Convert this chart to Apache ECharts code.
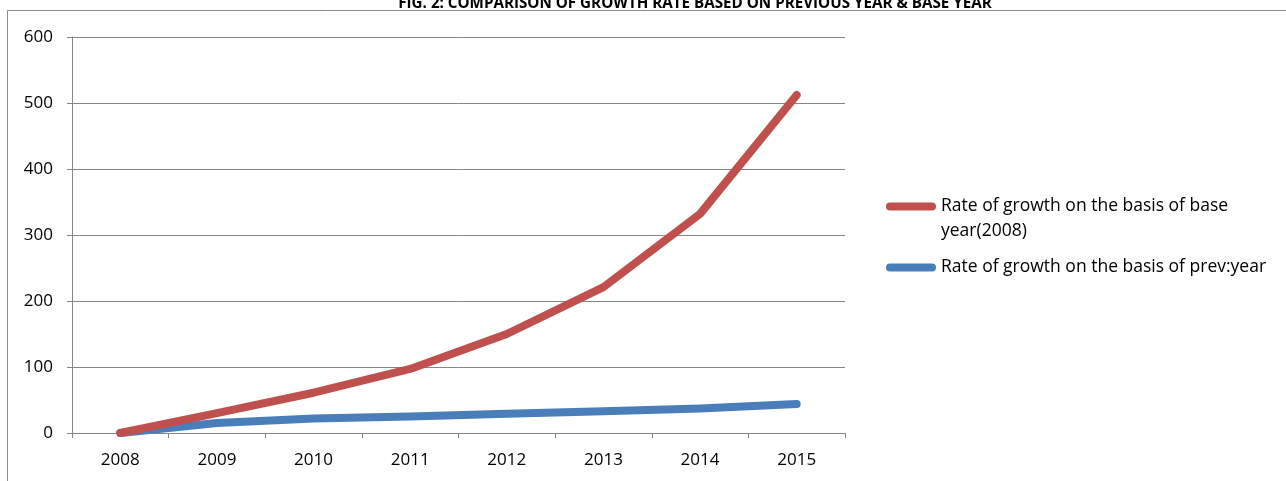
<!DOCTYPE html>
<html>
<head>
<meta charset="utf-8">
<script src="https://cdn.jsdelivr.net/npm/echarts@6/dist/echarts.min.js"></script>
<style>
html,body{margin:0;padding:0;background:#fff;}
#chart{width:1286px;height:481px;}
</style>
</head>
<body>
<div id="chart"></div>
<script>
var titleText = 'FIG. 2: COMPARISON OF GROWTH RATE BASED ON PREVIOUS YEAR & BASE YEAR';
var years = ['2008', '2009', '2010', '2011', '2012', '2013', '2014', '2015'];
var baseYearName = 'Rate of growth on the basis of base year(2008)';
var prevYearName = 'Rate of growth on the basis of prev:year';
var baseYearValues = [0, 30, 61, 97, 150, 221, 332, 512];
var prevYearValues = [0, 15, 22, 25, 29, 33, 37, 44];
var yTicks = [0, 100, 200, 300, 400, 500, 600];

var FONT = 'Open Sans';
var chart = echarts.init(document.getElementById('chart'));
var legendIcon = 'path://M4,0 H46 A4,4 0 0 1 46,8 H4 A4,4 0 0 1 4,0 Z';
chart.setOption({
  animation: false,
  backgroundColor: '#ffffff',
  textStyle: { fontFamily: FONT },
  title: {
    text: titleText,
    left: 690,
    top: -9,
    textAlign: 'center',
    textStyle: { fontFamily: FONT, fontWeight: 'bold', fontSize: 15.2, color: '#000' }
  },
  graphic: [{
    type: 'rect',
    shape: { x: 7.5, y: 10.5, width: 1300, height: 500 },
    style: { fill: 'none', stroke: '#8a8a8a', lineWidth: 1 },
    silent: true
  }],
  grid: { left: 72, right: 441, top: 37, bottom: 48, containLabel: false },
  legend: {
    orient: 'vertical',
    left: 881,
    top: 164,
    itemWidth: 50,
    itemHeight: 8,
    itemGap: 11,
    icon: legendIcon,
    data: [baseYearName, prevYearName],
    formatter: function (name) {
      if (name === baseYearName) {
        return '\nRate of growth on the basis of base\nyear(2008)';
      }
      return name;
    },
    textStyle: { fontFamily: FONT, fontSize: 17.5, color: '#000', lineHeight: 25 }
  },
  xAxis: {
    type: 'category',
    data: years,
    boundaryGap: true,
    axisLine: { lineStyle: { color: '#868686', width: 1 } },
    axisTick: { show: true, alignWithLabel: false, interval: 0, length: 5, lineStyle: { color: '#868686' } },
    axisLabel: { margin: 19, fontFamily: FONT, fontSize: 17, color: '#000' },
    splitLine: { show: false }
  },
  yAxis: {
    type: 'value',
    min: 0,
    max: 600,
    interval: 100,
    axisLine: { show: true, lineStyle: { color: '#868686', width: 1 } },
    axisTick: { show: true, length: 5, lineStyle: { color: '#868686' } },
    axisLabel: {
      margin: 19, fontFamily: FONT, fontSize: 17, color: '#000',
      formatter: function (v) { return yTicks.indexOf(v) >= 0 ? String(v) : ''; }
    },
    splitLine: { show: true, lineStyle: { color: '#868686', width: 1 } }
  },
  series: [
    {
      name: baseYearName,
      type: 'line',
      data: baseYearValues,
      z: 3,
      symbol: 'none',
      showSymbol: false,
      color: '#C0504D',
      lineStyle: { color: '#C0504D', width: 8, cap: 'round', join: 'round' }
    },
    {
      name: prevYearName,
      type: 'line',
      data: prevYearValues,
      z: 2,
      symbol: 'none',
      showSymbol: false,
      color: '#4A7EBB',
      lineStyle: { color: '#4A7EBB', width: 8, cap: 'round', join: 'round' }
    }
  ]
});
</script>
</body>
</html>
